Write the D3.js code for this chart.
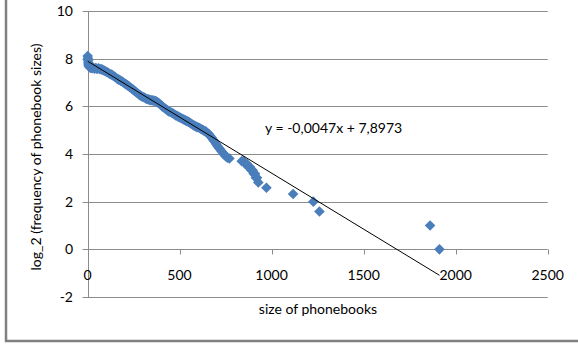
<!DOCTYPE html>
<html>
<head>
<meta charset="utf-8">
<script src="https://cdn.jsdelivr.net/npm/d3@7"></script>
<style>
  body { margin: 0; background: #fff; }
  text { font-family: Lato, "Open Sans", sans-serif; fill: #000; }
</style>
</head>
<body>
<div id="chart"></div>
<script>
// phonebook size (x) and log_2 of its frequency (y)
const sizes = [
  1, 2, 3, 4, 5, 6, 8, 10, 12, 15,
  20, 25, 30, 38, 45, 52, 60, 68, 75, 82,
  90, 98, 105, 112, 120, 128, 135, 142, 150, 158,
  165, 172, 180, 188, 195, 202, 210, 218, 225, 232,
  240, 248, 255, 262, 270, 278, 285, 292, 300, 308,
  315, 322, 330, 338, 345, 352, 360, 368, 375, 382,
  390, 398, 405, 412, 420, 428, 435, 442, 450, 458,
  465, 472, 480, 488, 495, 502, 510, 518, 525, 532,
  540, 548, 555, 562, 570, 578, 585, 592, 600, 608,
  615, 622, 630, 638, 645, 652, 660, 668, 675, 682,
  690, 698, 705, 712, 720, 728, 735, 742, 750, 760,
  771, 838, 848, 858, 866, 874, 882, 890, 897, 903,
  910, 915, 921, 928, 972, 1117, 1227, 1260, 1861, 1912
];
const logFreq = [
  8.11, 8.02, 7.93, 7.85, 7.78, 7.72, 7.68, 7.75, 7.64, 7.62,
  7.62, 7.60, 7.63, 7.58, 7.61, 7.57, 7.60, 7.56, 7.55, 7.54,
  7.50, 7.47, 7.44, 7.41, 7.37, 7.34, 7.31, 7.27, 7.23, 7.18,
  7.14, 7.11, 7.08, 7.04, 7.00, 6.96, 6.92, 6.88, 6.84, 6.79,
  6.75, 6.70, 6.65, 6.61, 6.56, 6.51, 6.47, 6.43, 6.40, 6.37,
  6.34, 6.31, 6.29, 6.27, 6.26, 6.25, 6.24, 6.22, 6.20, 6.16,
  6.12, 6.06, 6.01, 5.96, 5.92, 5.87, 5.83, 5.79, 5.76, 5.73,
  5.70, 5.66, 5.62, 5.59, 5.56, 5.53, 5.50, 5.47, 5.44, 5.41,
  5.38, 5.35, 5.32, 5.28, 5.24, 5.20, 5.17, 5.14, 5.12, 5.09,
  5.06, 5.03, 4.99, 4.96, 4.93, 4.88, 4.83, 4.75, 4.68, 4.60,
  4.52, 4.43, 4.35, 4.27, 4.20, 4.12, 4.05, 3.98, 3.91, 3.85,
  3.81, 3.70, 3.70, 3.585, 3.585, 3.459, 3.459, 3.322, 3.322, 3.17,
  3.17, 3.0, 3.0, 2.807, 2.585, 2.322, 2.0, 1.585, 1.0, 0.0
];
const xTicks = [0, 500, 1000, 1500, 2000, 2500];
const yTicks = [-2, 0, 2, 4, 6, 8, 10];
const trendCoef = [-0.0047, 7.8973]; // slope, intercept
const trendLabel = "y = -0,0047x + 7,8973";
const xTitle = "size of phonebooks";
const yTitle = "log_2 (frequency of phonebook sizes)";

const W = 578, H = 349;
const svg = d3.select("#chart").append("svg")
  .attr("width", W).attr("height", H);

svg.append("rect").attr("width", W).attr("height", H).attr("fill", "#fff");

// outer frame (only left and bottom edges show)
svg.append("path")
  .attr("d", "M6,0V341H578")
  .attr("fill", "none")
  .attr("stroke", "#808080")
  .attr("stroke-width", 2.5);

const x = d3.scaleLinear().domain([0, 2500]).range([87.5, 547.7]);
const y = d3.scaleLinear().domain([-2, 10]).range([297, 11]);

// gridlines + left ticks
svg.append("g").selectAll("line")
  .data(yTicks)
  .join("line")
    .attr("x1", x(0) - 5)
    .attr("x2", x(2500))
    .attr("y1", d => Math.round(y(d)) + 0.5)
    .attr("y2", d => Math.round(y(d)) + 0.5)
    .attr("stroke", "#8c8c8c")
    .attr("stroke-width", 1);

// y axis line
svg.append("line")
  .attr("x1", Math.round(x(0)) + 0.5).attr("x2", Math.round(x(0)) + 0.5)
  .attr("y1", y(10)).attr("y2", y(-2))
  .attr("stroke", "#8c8c8c");

// x axis sits on y = 0
const xAxisY = Math.round(y(0)) + 0.5;
svg.append("g").selectAll("line")
  .data(xTicks)
  .join("line")
    .attr("x1", d => Math.round(x(d)) + 0.5)
    .attr("x2", d => Math.round(x(d)) + 0.5)
    .attr("y1", xAxisY)
    .attr("y2", xAxisY + 5)
    .attr("stroke", "#8c8c8c");

svg.append("g").selectAll("text")
  .data(xTicks)
  .join("text")
    .attr("x", d => x(d))
    .attr("y", 280)
    .attr("text-anchor", "middle")
    .attr("font-size", 14)
    .text(d => d);

svg.append("g").selectAll("text")
  .data(yTicks)
  .join("text")
    .attr("x", 73)
    .attr("y", d => y(d) + 5)
    .attr("text-anchor", "end")
    .attr("font-size", 14)
    .text(d => d);

// points
const pts = sizes.map((s, i) => ({ s: s, v: logFreq[i] }));
svg.append("g").selectAll("path")
  .data(pts)
  .join("path")
    .attr("transform", d => `translate(${x(d.s)},${y(d.v)})`)
    .attr("d", "M0,-5.3L5.3,0L0,5.3L-5.3,0Z")
    .attr("fill", "#4a7ebb");

// linear trendline
const xMin = d3.min(sizes), xMax = d3.max(sizes);
svg.append("line")
  .attr("x1", x(xMin)).attr("y1", y(trendCoef[0] * xMin + trendCoef[1]))
  .attr("x2", x(xMax)).attr("y2", y(trendCoef[0] * xMax + trendCoef[1]))
  .attr("stroke", "#000")
  .attr("stroke-width", 1);

svg.append("text")
  .attr("x", 265)
  .attr("y", 133)
  .attr("font-size", 14)
  .text(trendLabel);

// axis titles
svg.append("text")
  .attr("x", 318)
  .attr("y", 314)
  .attr("text-anchor", "middle")
  .attr("font-size", 14)
  .text(xTitle);

svg.append("text")
  .attr("transform", "translate(41,157) rotate(-90)")
  .attr("text-anchor", "middle")
  .attr("font-size", 14)
  .text(yTitle);
</script>
</body>
</html>
